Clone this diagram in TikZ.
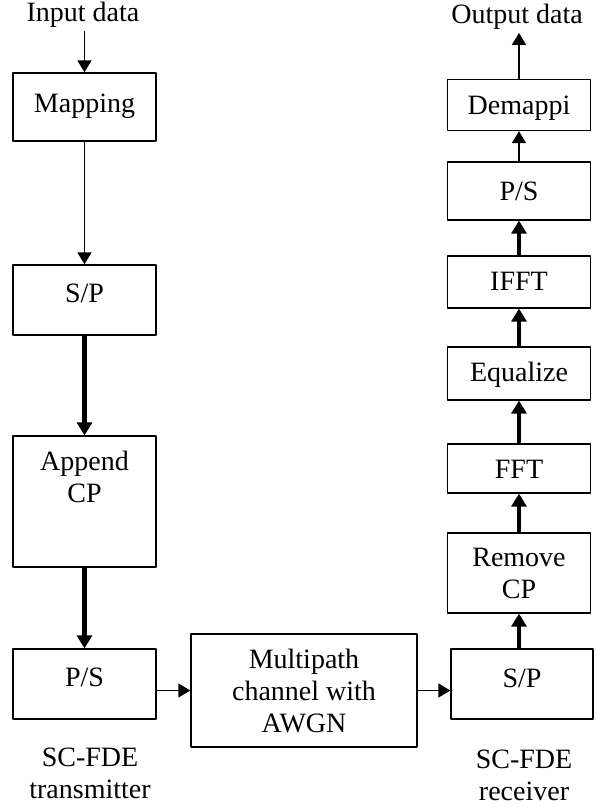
\documentclass[tikz,border=0pt]{standalone}
\usepackage{fontspec}
\setmainfont{Liberation Serif}
\usetikzlibrary{arrows.meta,positioning,calc}

\begin{document}
\begin{tikzpicture}[x=1pt, y=-1pt, line join=round,
  blk/.style={draw, line width=1.3pt, align=center, inner sep=0pt,
    minimum width=143pt, font=\fontsize{28}{32}\selectfont},
  one/.style={text height=19pt, text depth=#1},
  lbl/.style={align=center, inner sep=3pt, font=\fontsize{28}{32}\selectfont},
  sigarr/.style={line width=1.3pt, -{Triangle[length=12pt,width=14pt]}},
  vecarr/.style={line width=4.7pt, -{Triangle[length=13pt,width=15pt]}}]
\useasboundingbox (0,0) rectangle (595,807);
% transmitter
\node[lbl] (in) at (83,15) {Input data};
\node[blk, one=8.5pt,  minimum height=68pt]  (map) at (84.5,107)   {Mapping};
\node[blk, one=14.5pt, minimum height=70pt]  (sp1) at (84.5,300)   {S/P};
\node[blk, text depth=49.5pt, minimum height=131pt] (acp) at (84.5,501.5) {Append\\CP};
\node[blk, one=14.5pt, minimum height=70pt]  (ps1) at (84.5,684)   {P/S};
\node[lbl] (tx) at (90,773.5) {SC-FDE\\transmitter};
% channel
\node[blk, minimum width=226pt, minimum height=113pt] (chan) at (304,690.5) {Multipath\\channel with\\AWGN};
% receiver
\node[blk, one=12.5pt, minimum width=142pt, minimum height=70pt] (sp2) at (522,684) {S/P};
\node[blk, minimum height=80pt] (rcp)  at (519,573)   {Remove\\CP};
\node[blk, one=0pt,   minimum height=49pt] (fft)  at (519,468.5) {FFT};
\node[blk, one=2.5pt, minimum height=53pt] (eq)   at (519,373.5) {Equalize};
\node[blk, one=1.5pt, minimum height=52pt] (ifft) at (519,282)   {IFFT};
\node[blk, one=0.5pt, minimum height=58pt] (ps2)  at (519,191)   {P/S};
\node[blk, one=0.5pt, minimum height=51pt] (dem)  at (519,105)   {Demappi};
\node[lbl] (out) at (517,17) {Output data};
\node[lbl] (rx)  at (524,775.5) {SC-FDE\\receiver};
% connectors
\draw[sigarr] (in.south -| map.north) -- (map.north);
\draw[sigarr] (map) -- (sp1);
\draw[vecarr] (sp1) -- (acp);
\draw[vecarr] (acp) -- (ps1);
\draw[sigarr] (ps1.east |- chan.west) -- (chan.west);
\draw[sigarr] (chan.east) -- (chan.east -| sp2.west);
\draw[vecarr] (sp2.north -| rcp.south) -- (rcp.south);
\draw[vecarr] (rcp) -- (fft);
\draw[vecarr] (fft) -- (eq);
\draw[vecarr] (eq) -- (ifft);
\draw[vecarr] (ifft) -- (ps2);
\draw[sigarr] (ps2) -- (dem);
\draw[sigarr] (dem.north) -- (dem.north |- out.south);
\end{tikzpicture}
\end{document}
